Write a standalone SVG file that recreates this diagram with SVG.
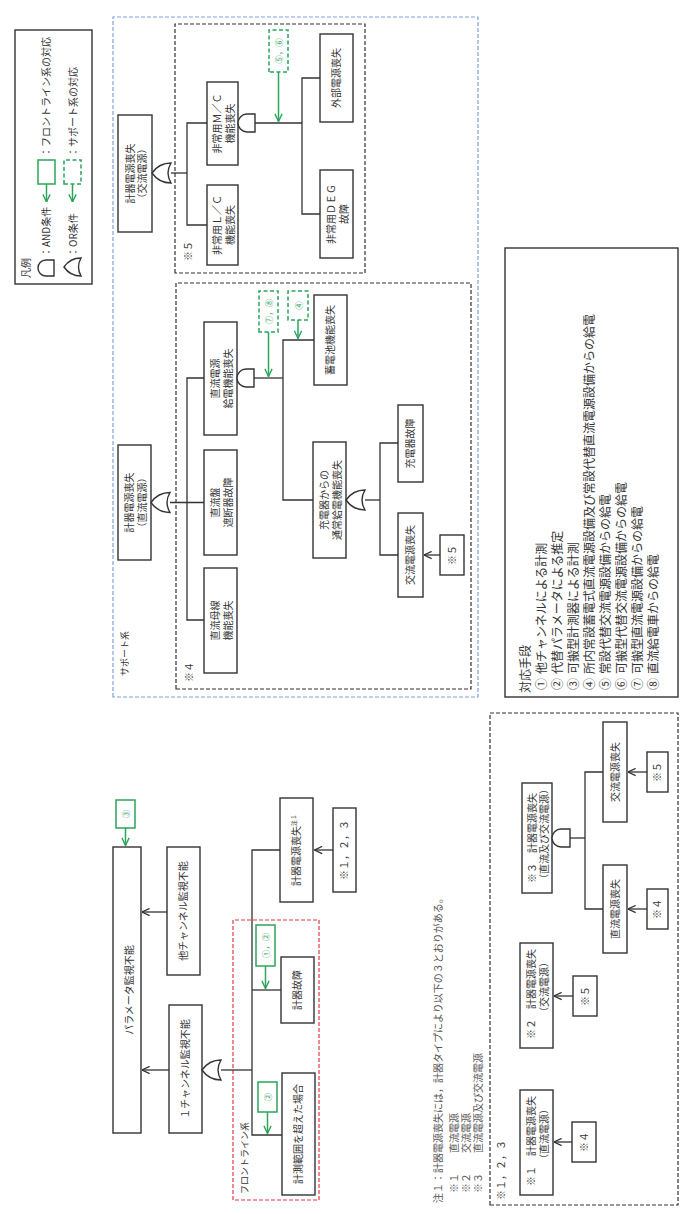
<svg xmlns="http://www.w3.org/2000/svg" width="684" height="1214" viewBox="0 0 684 1214">
<defs>
<style>
.bx{fill:#fff;stroke:#333;stroke-width:1.4}
.ln{fill:none;stroke:#333;stroke-width:1.3}
.gt{fill:#fff;stroke:#333;stroke-width:1.4}
.ar{fill:none;stroke:#333;stroke-width:1.3;marker-end:url(#ah)}
.ga{fill:none;stroke:#2aa55a;stroke-width:1.5;marker-end:url(#gh)}
.gs{fill:#fff;stroke:#2aa55a;stroke-width:1.5}
.gd{fill:#fff;stroke:#2aa55a;stroke-width:1.5;stroke-dasharray:4 2.5}
.kd{fill:none;stroke:#333;stroke-width:1.2;stroke-dasharray:4 2}
.bd{fill:none;stroke:#7ea2d8;stroke-width:1.2;stroke-dasharray:4 2}
.rd{fill:none;stroke:#e0393e;stroke-width:1.2;stroke-dasharray:4 2}
text{font-family:"Noto Sans CJK JP","Noto Sans",sans-serif;fill:#333}
.t{font-size:10px;text-anchor:middle}
.s{font-size:10px}
.g{font-size:8.5px;fill:#2aa55a;text-anchor:middle}
.m{font-size:12px}
.n{font-size:10px;fill:#555}
</style>
<marker id="ah" viewBox="0 0 10 10" refX="9.5" refY="5" markerWidth="9" markerHeight="9" orient="auto" markerUnits="userSpaceOnUse"><path d="M1,1 L9.5,5 L1,9" fill="none" stroke="#333" stroke-width="1.4"/></marker>
<marker id="gh" viewBox="0 0 10 10" refX="9.5" refY="5" markerWidth="9" markerHeight="9" orient="auto" markerUnits="userSpaceOnUse"><path d="M1,1 L9.5,5 L1,9" fill="none" stroke="#2aa55a" stroke-width="1.5"/></marker>
</defs>
<rect width="684" height="1214" fill="#fff"/>
<g transform="translate(0,1214) rotate(-90)">

<!-- frames -->
<g id="frames">
<rect class="bd" x="517" y="113" width="680" height="365"/>
<text x="538" y="128" font-size="9" fill="#5b8ad0">サポート系</text>
<rect class="kd" x="941" y="175" width="249" height="190"/>
<text class="s" x="953" y="192">※５</text>
<rect class="kd" x="525" y="176" width="406" height="295"/>
<text class="s" x="532" y="193">※４</text>
<rect class="rd" x="14" y="233" width="280" height="86"/>
<text x="20" y="248" font-size="9" fill="#e0393e">フロントライン系</text>
<rect class="kd" x="9" y="490" width="492" height="188"/>
<text class="s" x="14" y="505">※１，２，３</text>
</g>

<!-- legend -->
<g id="legend">
<rect class="bx" x="930" y="15" width="254" height="77"/>
<text class="s" x="936" y="30">凡例</text>
<path class="gt" d="M938,54 V46 A8 8 0 0 1 954,46 V54 Z"/>
<text class="s" x="957" y="50">：AND条件</text>
<path class="gt" d="M938,81 Q947,76 956,81 Q956,70 947,64 Q938,70 938,81 Z"/>
<text class="s" x="957" y="77">：OR条件</text>
<rect class="gs" x="1030" y="38" width="24" height="17"/>
<path class="ga" d="M1030,46.5 H1012"/>
<text class="s" x="1057" y="50">：フロントライン系の対応</text>
<rect class="gd" x="1030" y="64" width="24" height="17"/>
<path class="ga" d="M1030,72.5 H1012"/>
<text class="s" x="1057" y="77">：サポート系の対応</text>
</g>

<!-- connectors -->
<g id="connectors">
<path class="ar" d="M144,169 V142"/>
<path class="ar" d="M302,167 V142"/>
<path class="ln" d="M144,221 V252"/>
<path class="ln" d="M79,282 V252 H364 V280"/>
<path class="ln" d="M224,252 V281"/>
<path class="ar" d="M364,333 V314.5"/>
<path class="ga" d="M386,125.5 H368.5"/>
<path class="ga" d="M102,267.5 H80.5"/>
<path class="ga" d="M248,265.5 H225.5"/>

<path class="ln" d="M1041,171 V187"/>
<path class="ln" d="M989,207 V187 H1091 V207"/>
<path class="ln" d="M1091,255 V302"/>
<path class="ln" d="M1000,320 V302 H1136 V320"/>
<path class="ga" d="M1142,278.5 H1092.5"/>

<path class="ln" d="M711.5,170 V204"/>
<path class="ln" d="M594,204 V187 H836 V204"/>
<path class="ln" d="M836,254 V283"/>
<path class="ln" d="M714,313 V283 H874 V314"/>
<path class="ga" d="M882,268.5 H837.5"/>
<path class="ga" d="M894,298 H875.5"/>
<path class="ln" d="M714,365 V380"/>
<path class="ln" d="M659,398 V380 H771 V398"/>
<path class="ar" d="M659,440 V424"/>

<path class="ar" d="M72,572 V554"/>
<path class="ar" d="M218,573 V554"/>
<path class="ln" d="M376,570 V585"/>
<path class="ln" d="M305,603 V585 H442 V603"/>
<path class="ar" d="M305,647 V628"/>
<path class="ar" d="M442,647 V628"/>
</g>

<!-- front line tree -->
<g id="n-param"><rect class="bx" x="81" y="113" width="286" height="28"/><text class="t" x="224" y="132.5" font-size="15">パラメータ監視不能</text></g>
<g id="n-g3"><rect class="gs" x="386" y="116" width="28" height="19"/><text class="g" x="400" y="128.5">③</text></g>
<g id="n-1ch"><rect class="bx" x="81" y="169" width="128" height="33"/><text class="t" x="145" y="189">１チャンネル監視不能</text></g>
<g id="n-or1"><path class="gt" d="M134,221 Q144,215 154,221 Q154,209 144,202 Q134,209 134,221 Z"/></g>
<g id="n-other"><rect class="bx" x="239" y="167" width="128" height="33"/><text class="t" x="303" y="187">他チャンネル監視不能</text></g>
<g id="n-range"><rect class="bx" x="19" y="282" width="122" height="33"/><text class="t" x="80" y="302">計測範囲を超えた場合</text></g>
<g id="n-g2"><rect class="gs" x="102" y="258" width="30" height="19"/><text class="g" x="117" y="270.5">②</text></g>
<g id="n-fail"><rect class="bx" x="191" y="281" width="66" height="33"/><text class="t" x="224" y="301">計器故障</text></g>
<g id="n-g12"><rect class="gs" x="248" y="256" width="41" height="19"/><text class="g" x="268.5" y="268.5">①，②</text></g>
<g id="n-pwr"><rect class="bx" x="312" y="280" width="104" height="33"/><text class="t" x="364" y="300">計器電源喪失<tspan font-size="6" dy="-4">注１</tspan></text></g>
<g id="n-r123"><rect class="bx" x="322" y="333" width="84" height="23"/><text class="t" x="364" y="348">※１，２，３</text></g>

<!-- support ※5 -->
<g id="n-ac"><rect class="bx" x="982" y="118" width="117" height="34"/><text class="t" x="1040.5" y="133.5">計器電源喪失</text><text class="t" x="1040.5" y="146">（交流電源）</text></g>
<g id="n-or5"><path class="gt" d="M1031,171 Q1041,165 1051,171 Q1051,159 1041,152 Q1031,159 1031,171 Z"/></g>
<g id="n-lc"><rect class="bx" x="949" y="207" width="80" height="31"/><text class="t" x="989" y="221">非常用Ｌ／Ｃ</text><text class="t" x="989" y="233.5">機能喪失</text></g>
<g id="n-mc"><rect class="bx" x="1049" y="207" width="83" height="31"/><text class="t" x="1090.5" y="221">非常用Ｍ／Ｃ</text><text class="t" x="1090.5" y="233.5">機能喪失</text></g>
<g id="n-and5"><path class="gt" d="M1082,255 V247 A9 9 0 0 1 1100,247 V255 Z"/></g>
<g id="n-ext"><rect class="bx" x="1092" y="320" width="88" height="33"/><text class="t" x="1136" y="340">外部電源喪失</text></g>
<g id="n-deg"><rect class="bx" x="956" y="320" width="88" height="33"/><text class="t" x="1000" y="335">非常用ＤＥＧ</text><text class="t" x="1000" y="347.5">故障</text></g>
<g id="n-g56"><rect class="gd" x="1142" y="269" width="42" height="19"/><text class="g" x="1163" y="281.5">⑤，⑥</text></g>

<!-- support ※4 -->
<g id="n-dc"><rect class="bx" x="654" y="118" width="115" height="33"/><text class="t" x="711.5" y="133">計器電源喪失</text><text class="t" x="711.5" y="145.5">（直流電源）</text></g>
<g id="n-or4"><path class="gt" d="M701.5,170 Q711.5,164 721.5,170 Q721.5,158 711.5,151 Q701.5,158 701.5,170 Z"/></g>
<g id="n-bus"><rect class="bx" x="541" y="204" width="105" height="33"/><text class="t" x="593.5" y="219">直流母線</text><text class="t" x="593.5" y="231.5">機能喪失</text></g>
<g id="n-brk"><rect class="bx" x="659" y="204" width="105" height="33"/><text class="t" x="711.5" y="219">直流盤</text><text class="t" x="711.5" y="231.5">遮断器故障</text></g>
<g id="n-dcs"><rect class="bx" x="779" y="204" width="113" height="33"/><text class="t" x="835.5" y="219">直流電源</text><text class="t" x="835.5" y="231.5">給電機能喪失</text></g>
<g id="n-and4"><path class="gt" d="M827,254 V246 A9 9 0 0 1 845,246 V254 Z"/></g>
<g id="n-bat"><rect class="bx" x="829" y="314" width="90" height="33"/><text class="t" x="874" y="334">蓄電池機能喪失</text></g>
<g id="n-chg"><rect class="bx" x="656" y="313" width="116" height="33"/><text class="t" x="714" y="328">充電器からの</text><text class="t" x="714" y="340.5">通常給電機能喪失</text></g>
<g id="n-g78"><rect class="gd" x="882" y="259" width="41" height="19"/><text class="g" x="902.5" y="271.5">⑦，⑧</text></g>
<g id="n-g4"><rect class="gd" x="894" y="288" width="29" height="20"/><text class="g" x="908.5" y="301.5">④</text></g>
<g id="n-or6"><path class="gt" d="M704,365 Q714,359 724,365 Q724,353 714,346 Q704,353 704,365 Z"/></g>
<g id="n-chf"><rect class="bx" x="732" y="398" width="77" height="25"/><text class="t" x="770.5" y="414">充電器故障</text></g>
<g id="n-acl"><rect class="bx" x="617" y="398" width="84" height="25"/><text class="t" x="659" y="414">交流電源喪失</text></g>
<g id="n-r5a"><rect class="bx" x="639" y="440" width="40" height="24"/><text class="t" x="659" y="455.5">※５</text></g>

<!-- countermeasures -->
<g id="n-list">
<rect class="bx" x="517" y="505" width="449" height="173"/>
<text class="m" x="521" y="530">対応手段</text>
<text class="m" x="524" y="546">①</text><text class="m" x="540" y="546">他チャンネルによる計測</text>
<text class="m" x="524" y="562">②</text><text class="m" x="540" y="562">代替パラメータによる推定</text>
<text class="m" x="524" y="578">③</text><text class="m" x="540" y="578">可搬型計測器による計測</text>
<text class="m" x="524" y="594">④</text><text class="m" x="540" y="594">所内常設蓄電式直流電源設備及び常設代替直流電源設備からの給電</text>
<text class="m" x="524" y="610">⑤</text><text class="m" x="540" y="610">常設代替交流電源設備からの給電</text>
<text class="m" x="524" y="626">⑥</text><text class="m" x="540" y="626">可搬型代替交流電源設備からの給電</text>
<text class="m" x="524" y="642">⑦</text><text class="m" x="540" y="642">可搬型直流電源設備からの給電</text>
<text class="m" x="524" y="658">⑧</text><text class="m" x="540" y="658">直流給電車からの給電</text>
</g>

<!-- note -->
<g id="note">
<text class="n" x="11" y="442">注１：計器電源喪失には，計器タイプにより以下の３とおりがある。</text>
<text class="n" x="21" y="458">※１</text><text class="n" x="61" y="458">直流電源</text>
<text class="n" x="21" y="470">※２</text><text class="n" x="61" y="470">交流電源</text>
<text class="n" x="21" y="482">※３</text><text class="n" x="61" y="482">直流電源及び交流電源</text>
</g>

<!-- bottom trees -->
<g id="n-p1"><rect class="bx" x="19" y="520" width="105" height="33"/><text class="t" x="73" y="535">※１　計器電源喪失</text><text class="t" x="80" y="547.5">（直流電源）</text></g>
<g id="n-p1r"><rect class="bx" x="52" y="572" width="40" height="24"/><text class="t" x="72" y="587.5">※４</text></g>
<g id="n-p2"><rect class="bx" x="166" y="520" width="105" height="33"/><text class="t" x="220" y="535">※２　計器電源喪失</text><text class="t" x="227" y="547.5">（交流電源）</text></g>
<g id="n-p2r"><rect class="bx" x="198" y="573" width="40" height="24"/><text class="t" x="218" y="588.5">※５</text></g>
<g id="n-p3"><rect class="bx" x="321" y="522" width="110" height="30"/><text class="t" x="376" y="535.5">※３　計器電源喪失</text><text class="t" x="380" y="548">（直流及び交流電源）</text></g>
<g id="n-and3"><path class="gt" d="M367,570 V561 A9 9 0 0 1 385,561 V570 Z"/></g>
<g id="n-p3dc"><rect class="bx" x="261" y="603" width="88" height="24"/><text class="t" x="305" y="618.5">直流電源喪失</text></g>
<g id="n-p3ac"><rect class="bx" x="392" y="603" width="100" height="24"/><text class="t" x="442" y="618.5">交流電源喪失</text></g>
<g id="n-p3r4"><rect class="bx" x="285" y="647" width="40" height="21"/><text class="t" x="305" y="661">※４</text></g>
<g id="n-p3r5"><rect class="bx" x="422" y="647" width="40" height="21"/><text class="t" x="442" y="661">※５</text></g>

</g>
</svg>
